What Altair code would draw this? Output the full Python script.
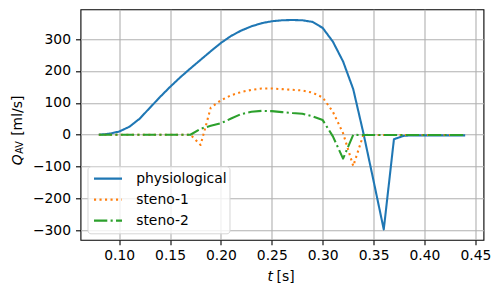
import altair as alt
import pandas as pd

t = [0.08, 0.09, 0.10, 0.11, 0.12, 0.13, 0.14, 0.15, 0.16, 0.17, 0.18, 0.19,
     0.20, 0.21, 0.22, 0.23, 0.24, 0.25, 0.26, 0.27, 0.28, 0.29, 0.30, 0.31,
     0.32, 0.33, 0.34, 0.35, 0.36, 0.37, 0.38, 0.39, 0.40, 0.41, 0.42, 0.43, 0.44]

physiological = [0, 3, 10, 25, 50, 84, 118, 150, 180, 208, 235, 262,
                 288, 310, 327, 340, 350, 356, 359, 360, 359, 354, 335, 292,
                 230, 143, 5, -145, -297, -14, -3, -2, -2, -2, -2, -2, -2]

steno1 = [0, 0, 0, 0, 0, 0, 0, 0, 0, 0, -32, 85,
          108, 124, 134, 141, 145, 145, 143, 141, 139, 132, 117, 72,
          5, -98, 0, -1, -1, -1, -1, -1, -1, -1, -1, -1, -1]

steno2 = [0, 0, 0, 0, 0, 0, 0, 0, 0, 0, 19, 28,
          36, 51, 65, 72, 75, 74, 71, 68, 66, 58, 46, -5,
          -75, 0, -1, -1, -1, -1, -1, -1, -1, -1, -1, -1, -1]

series_names = ["physiological", "steno-1", "steno-2"]
series_colors = ["#1f77b4", "#ff7f0e", "#2ca02c"]
series_dashes = [[1, 0], [2.1, 3.4], [13.3, 3.3, 2.1, 3.3]]

x_ticks = [0.10, 0.15, 0.20, 0.25, 0.30, 0.35, 0.40, 0.45]
y_ticks = [-300, -200, -100, 0, 100, 200, 300]

rows = []
for name, vals in zip(series_names, [physiological, steno1, steno2]):
    for ti, v in zip(t, vals):
        rows.append({"t": ti, "Q": v, "series": name})
df = pd.DataFrame(rows)

FONT = "DejaVu Sans"
FS = 13.9

lines = alt.Chart(df).mark_line(strokeWidth=2.08, strokeJoin="round").encode(
    x=alt.X("t:Q", scale=alt.Scale(domain=[0.062, 0.458], nice=False, zero=False),
            axis=alt.Axis(values=x_ticks, format=".2f", title=None)),
    y=alt.Y("Q:Q", scale=alt.Scale(domain=[-329.5, 393.5], nice=False, zero=False),
            axis=alt.Axis(values=y_ticks, format="d", title=None)),
    color=alt.Color("series:N", scale=alt.Scale(domain=series_names, range=series_colors),
                    legend=alt.Legend(title=None, orient="none", legendX=7, legendY=157)),
    strokeDash=alt.StrokeDash("series:N", scale=alt.Scale(domain=series_names, range=series_dashes),
                              legend=alt.Legend(title=None, orient="none", legendX=7, legendY=157)),
    order=alt.Order("t:Q"),
)

one = alt.Data(values=[{}])

def label(text, x, y, angle=0, italic=False, size=FS):
    kw = dict(text=text, align="left", baseline="alphabetic", font=FONT,
              fontSize=size, color="black")
    if angle:
        kw["angle"] = angle
    if italic:
        kw["fontStyle"] = "italic"
    return alt.Chart(one).mark_text(**kw).encode(x=alt.value(x), y=alt.value(y))

ytitle_q = label("Q", -59, 156, angle=270, italic=True)
ytitle_sub = label("AV", -57.5, 144.5, angle=270, size=9.7)
ytitle_rest = label("[ml/s]", -59, 126.5, angle=270)
xtitle_t = label("t", 187, 272.2, italic=True)
xtitle_rest = label("[s]", 196, 272.2)

chart = alt.layer(lines, ytitle_q, ytitle_sub, ytitle_rest, xtitle_t, xtitle_rest).properties(
    width=403, height=230.5,
    padding={"left": 72.5, "top": 1.3, "right": 8, "bottom": 55},
    autosize=alt.AutoSizeParams(type="none"),
).configure_view(
    stroke="black", strokeWidth=1.1
).configure_axis(
    domain=False,
    grid=True, gridColor="#b0b0b0", gridWidth=1.1,
    ticks=True, tickColor="black", tickSize=5, tickWidth=1.1,
    labelFont=FONT, labelFontSize=FS, labelColor="black",
).configure_axisX(
    labelPadding=4,
).configure_axisY(
    labelPadding=5,
).configure_legend(
    symbolType="stroke", symbolSize=784, symbolStrokeWidth=2.08,
    clipHeight=20.7, rowPadding=0, padding=2, symbolOffset=3, labelOffset=12.7,
    labelFont=FONT, labelFontSize=FS, labelColor="black",
    strokeColor="#d6d6d6", fillColor="rgba(255,255,255,0.8)", cornerRadius=3,
)

chart.save("out.html", embed_options={"renderer": "svg", "actions": False})
